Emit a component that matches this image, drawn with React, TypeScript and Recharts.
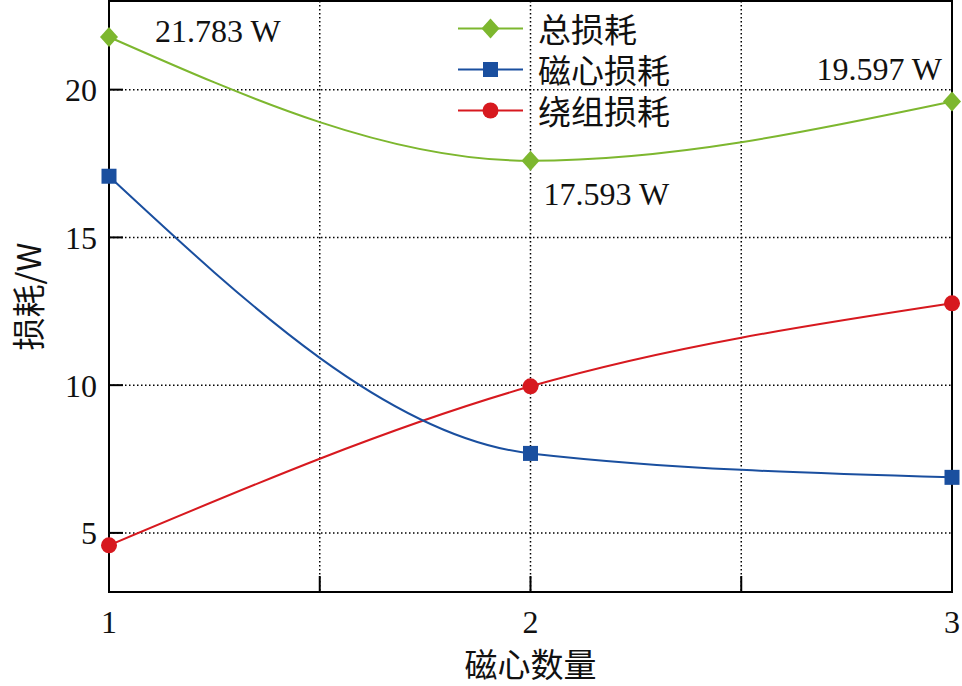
import { CartesianGrid, Label, Legend, Line, LineChart, ReferenceArea, XAxis, YAxis } from 'recharts';

const magnetCounts = [1, 2, 3];
const totalLoss = [21.783, 17.593, 19.597];
const coreLoss = [17.07, 7.69, 6.88];
const windingLoss = [4.58, 9.96, 12.77];
const xTicks = [1, 1.5, 2, 2.5, 3];
const yTicks = [5, 10, 15, 20];
const seriesNames = ['总损耗', '磁心损耗', '绕组损耗'];

const data = magnetCounts.map((n, i) => ({
    n,
    total: totalLoss[i],
    core: coreLoss[i],
    winding: windingLoss[i],
}));

const GREEN = '#7DB72F';
const BLUE = '#1A4F9F';
const RED = '#D7191F';
const SERIF = '"Liberation Serif", "Times New Roman", serif';
const CJK = '"Noto Sans CJK SC", sans-serif';

type Shape = 'diamond' | 'square' | 'circle';

function Marker({ cx, cy, shape, color }: { cx: number; cy: number; shape: Shape; color: string }) {
    if (shape === 'diamond') {
        return <path d={`M${cx},${cy - 10}L${cx + 9},${cy}L${cx},${cy + 10}L${cx - 9},${cy}Z`} fill={color} />;
    }
    if (shape === 'square') {
        return <rect x={cx - 7.5} y={cy - 7.5} width={15} height={15} fill={color} />;
    }
    return <circle cx={cx} cy={cy} r={8} fill={color} />;
}

const series = [
    { key: 'total', name: seriesNames[0], color: GREEN, shape: 'diamond' as Shape },
    { key: 'core', name: seriesNames[1], color: BLUE, shape: 'square' as Shape },
    { key: 'winding', name: seriesNames[2], color: RED, shape: 'circle' as Shape },
];

const makeDot = (shape: Shape, color: string) => (props: any) => (
    <Marker key={`${shape}-${props.index}`} cx={props.cx} cy={props.cy} shape={shape} color={color} />
);

const totalLabelPlaces = [
    { dx: 46, dy: 5, anchor: 'start' },
    { dx: 13, dy: 44, anchor: 'start' },
    { dx: -10, dy: -22, anchor: 'end' },
];

function renderTotalLabel(props: any) {
    const { x, y, value, index } = props;
    const p = totalLabelPlaces[index];
    return (
        <text
            key={`lbl-${index}`}
            x={x + p.dx}
            y={y + p.dy}
            textAnchor={p.anchor}
            fontFamily={SERIF}
            fontSize={32}
            fill="#111"
        >
            {`${Number(value).toFixed(3)} W`}
        </text>
    );
}

function renderLegend() {
    return (
        <div>
            {series.map((s) => (
                <div key={s.key} style={{ display: 'flex', alignItems: 'center', height: 41 }}>
                    <svg width={70} height={41}>
                        <line x1={3} x2={68} y1={20.5} y2={20.5} stroke={s.color} strokeWidth={2} />
                        <Marker cx={35.5} cy={20.5} shape={s.shape} color={s.color} />
                    </svg>
                    <span style={{ fontFamily: CJK, fontSize: 33, lineHeight: '41px', marginLeft: 13, color: '#111' }}>
                        {s.name}
                    </span>
                </div>
            ))}
        </div>
    );
}

export default function App() {
    return (
        <div style={{ position: 'absolute', left: 0, top: 0, background: '#fff' }}>
            <LineChart width={962} height={686} data={data} margin={{ top: 1, right: 10, left: 0, bottom: 0 }}>
                <CartesianGrid stroke="#000" strokeWidth={1.5} strokeDasharray="1.5 2.5" />
                <XAxis
                    type="number"
                    dataKey="n"
                    domain={[1, 3]}
                    ticks={xTicks}
                    tickFormatter={(v) => (Number.isInteger(v) ? String(v) : '')}
                    height={94}
                    axisLine={{ stroke: '#000', strokeWidth: 2 }}
                    tickLine={{ stroke: '#000', strokeWidth: 2 }}
                    tickSize={-16}
                    tickMargin={34}
                    tick={{ fill: '#111', fontFamily: SERIF, fontSize: 32 }}
                >
                    <Label value="磁心数量" position="center" dy={26} fontFamily={CJK} fontSize={33} fill="#111" />
                </XAxis>
                <YAxis
                    type="number"
                    domain={[3, 23]}
                    ticks={yTicks}
                    allowDataOverflow
                    width={109}
                    axisLine={{ stroke: '#000', strokeWidth: 2 }}
                    tickLine={{ stroke: '#000', strokeWidth: 2 }}
                    tickSize={-14}
                    tickMargin={26}
                    tick={{ fill: '#111', fontFamily: SERIF, fontSize: 32 }}
                >
                    <Label
                        value="损耗/W"
                        position="center"
                        angle={-90}
                        dx={-25}
                        fontFamily={CJK}
                        fontSize={33}
                        fill="#111"
                    />
                </YAxis>
                <ReferenceArea x1={1} x2={3} y1={3} y2={23} fill="none" stroke="#000" strokeWidth={2} />
                <Legend
                    content={renderLegend}
                    layout="vertical"
                    verticalAlign="middle"
                    align="center"
                    wrapperStyle={{ top: 8, left: 455, width: 'auto' }}
                />
                <Line
                    type="monotone"
                    dataKey="winding"
                    name={seriesNames[2]}
                    stroke={RED}
                    strokeWidth={2}
                    dot={makeDot('circle', RED)}
                    isAnimationActive={false}
                />
                <Line
                    type="monotone"
                    dataKey="core"
                    name={seriesNames[1]}
                    stroke={BLUE}
                    strokeWidth={2}
                    dot={makeDot('square', BLUE)}
                    isAnimationActive={false}
                />
                <Line
                    type="monotone"
                    dataKey="total"
                    name={seriesNames[0]}
                    stroke={GREEN}
                    strokeWidth={2}
                    dot={makeDot('diamond', GREEN)}
                    label={renderTotalLabel}
                    isAnimationActive={false}
                />
            </LineChart>
        </div>
    );
}
